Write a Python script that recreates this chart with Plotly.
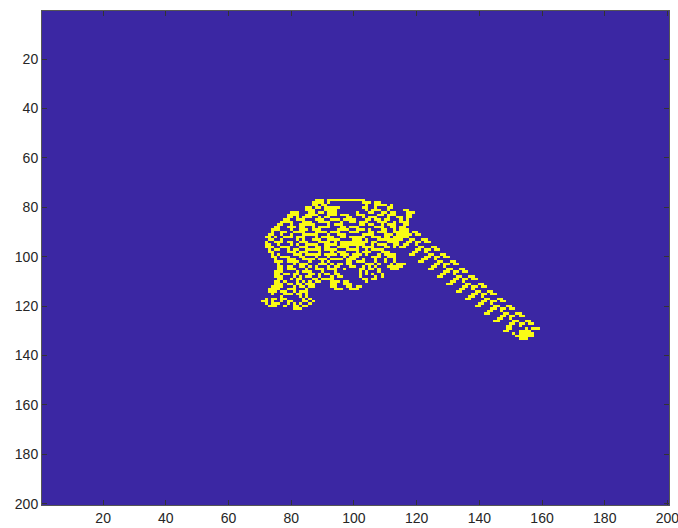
import plotly.graph_objects as go

tick_values = [20, 40, 60, 80, 100, 120, 140, 160, 180, 200]
background_colour = "#3b27a3"
cell_colour = "#f9fb15"

blob_first_row = 77
blob_first_col = 70
blob_rows = [
"..................###.############",
".................####.#..........###.##",
".................##.##............#..####.#",
"...............##.##.#####.......##..#...##",
"...............###...####.........#.###..#....##",
"..........###...##.##.###......#...##..##.##...###",
".........####..####...###.###..###....##.###...##",
".........##.#.###..#.##.....##...#.###...#..##.##",
"........##..###...###..###.####...##.##.##...#.#",
".......####...###..####...#..##.###...###..#.###",
"......##..#..#####....#.###.....##.##..#.###..##",
".....##..###.##..#.####...##.###.....###..##.##",
"....###...#..###.###.....####..###.#...##..#.###",
"....#..##..####...####.###...###...##.###..##..#",
"...##..#..#...#####...#..###.....####...###..###",
"..##.#..###.###...#.####..##.#####..###.##..####",
"...##..#....#.#..###..####....###.#...####.###",
"..#..###.##..###...####.#.#########.##...####",
"..##..#...#.#..####..####.########..#.###..##",
"..###..###...###..##.##..####..#.####...##.#",
"...#.##..#.##..#####.####...####..#.####",
"...##....###.###...#...#.###...#.###...###",
"....#.#....###.#####.####.###.###.#...#.####",
"....##.###...##...#...#....#.###....###..###",
".....#...###..####.###.####.###..#...#..#..#",
".....###.####...#...#.#.....##.###...#..#..#",
"......#....#.###...###.#.##.##....###.#...#.###",
"......##.##..##.#.#...#.##...##..#.#.#...#####",
"......##.###...#..###.###..#....##.##.#...###",
".....###....#.###...#...#.......#.#...#",
".....##.##.##...##.#.##.##......#.#.#..#",
".....###...#.#.##..#...#.##.....#....#.#",
"......##..#.##...##.####.........##.##",
".....##.#...#.#.#.##...###.##.....#",
".....###.##.##.###.....##..###",
"....####...#.##.##.....##...##.##",
"...####..###...#........###..###",
"...###.##..#.###",
"....#...###.##.#",
".......#.....#.#",
"..#.##.##.....#.#",
".##.#..#.##...##.#",
"..#.###..#.#.#..#",
"...###..#..##.##",
"...........###",
]

tail_first_row = 90
tail_first_col = 112
tail_rows = [
"...##..##",
"..##.##.##",
".##..#",
"##....##..##",
".....##.##.##",
"....##..#",
"...##....##..##",
"........##.##.##",
".......##..#",
"......##....##..##",
"...........##.##.##",
"..........##..#",
".........##....##..##",
"..............##.##.##",
".............##..#",
"............##....##..##",
".................##.##.##",
"................##..#",
"...............##....##..##",
"....................##.##.##",
"...................##..#",
"..................##....##..##",
".......................##.##.##",
"......................##..#",
".....................##....##..##",
"..........................##.##.##",
".........................##..#",
"........................##....##..##",
".............................##.##.##",
"............................##..#",
"...........................##....##..##",
"................................##.##.##",
"...............................##..#",
"..............................##....##..##",
"...................................##.##.##",
"..................................##..#",
".................................##....##..##",
"......................................##.##.##",
".....................................##..#",
".....................................##....#.###",
"....................................##...####",
".......................................#.#####",
"........................................######",
".........................................###",
]

z = [[0] * 200 for _ in range(200)]
for first_row, first_col, rows in [
    (blob_first_row, blob_first_col, blob_rows),
    (tail_first_row, tail_first_col, tail_rows),
]:
    for i, text in enumerate(rows):
        for j, ch in enumerate(text):
            if ch == "#":
                z[first_row - 1 + i][first_col - 1 + j] = 1

axis = dict(
    tickmode="array", tickvals=tick_values, ticktext=[str(v) for v in tick_values],
    ticks="inside", ticklen=5, tickwidth=1, tickcolor="#333333",
    showline=True, linecolor="#555555", linewidth=1, mirror="ticks",
    showgrid=False, zeroline=False, automargin=False, ticklabeloverflow="allow",
    tickfont=dict(family="Liberation Sans", size=14, color="#262626"),
)

fig = go.Figure(go.Heatmap(
    z=z, x=list(range(1, 201)), y=list(range(1, 201)),
    colorscale=[[0, background_colour], [1, cell_colour]],
    zmin=0, zmax=1, showscale=False, zsmooth=False, hoverinfo="skip",
))
fig.update_xaxes(range=[0.5, 200.5], **axis)
fig.update_yaxes(range=[200.5, 0.5], **axis)
fig.update_layout(
    width=678, height=528, margin=dict(l=42, r=9, t=11, b=23),
    paper_bgcolor="white", plot_bgcolor=background_colour, showlegend=False,
)
fig.write_html("out.html", post_script="document.body.style.margin='0';",
               config={"displayModeBar": False})
